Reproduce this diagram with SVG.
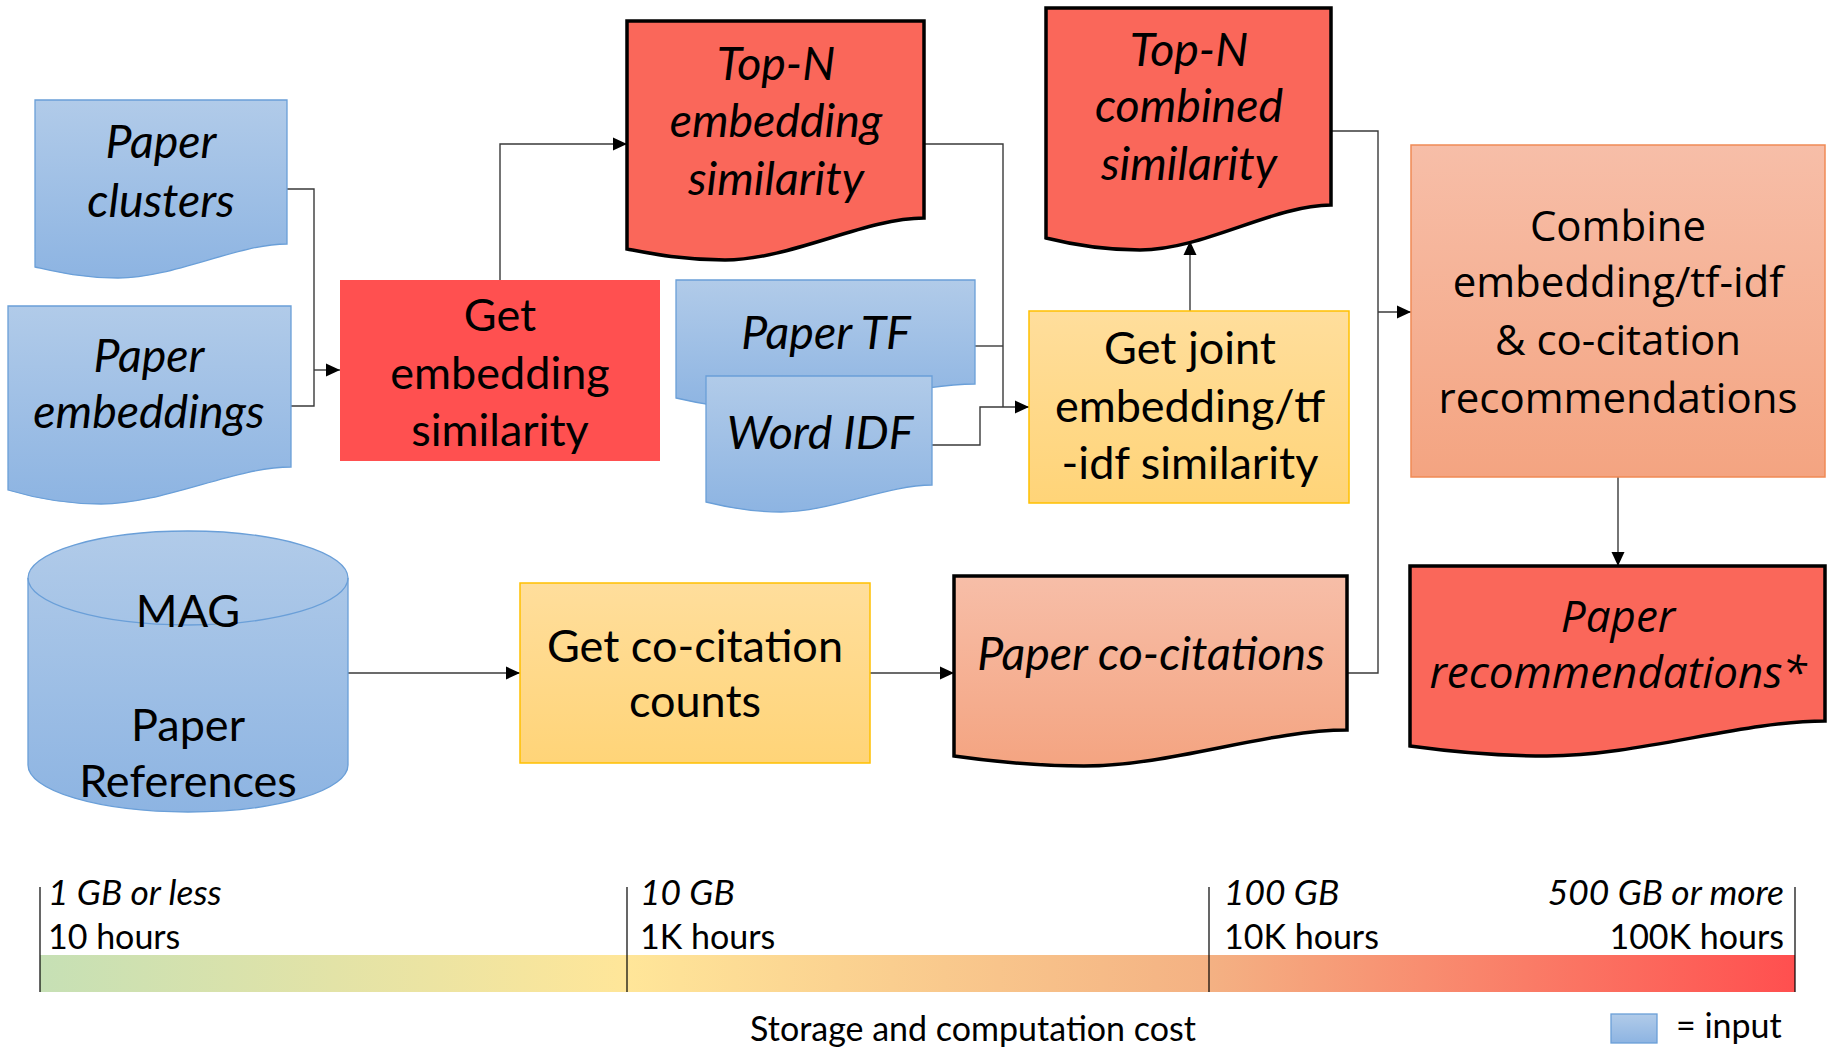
<svg xmlns="http://www.w3.org/2000/svg" width="1838" height="1050" viewBox="0 0 1838 1050">
<style>
text{font-family:Lato,"Liberation Sans",sans-serif;fill:#000;text-anchor:middle}
.n{font-size:45px}
.i{font-size:46.5px;font-style:italic}
.w{font-family:"Open Sans","DejaVu Sans",sans-serif;font-size:42px}
.wi{font-family:"Open Sans","DejaVu Sans",sans-serif;font-size:44px;font-style:italic}
.s{font-size:34px;text-anchor:start}
.si{font-size:35.4px;font-style:italic;text-anchor:start}
.inp{fill:url(#gBlue);stroke:#6A9FD8;stroke-width:1.3}
.thick{stroke:#000;stroke-width:3.5}
.conn{fill:none;stroke:#3a3a3a;stroke-width:1.4}
.tick{stroke:#000;stroke-width:1.2}
</style>
<defs>
<linearGradient id="gBlue" x1="0" y1="0" x2="0" y2="1"><stop offset="0" stop-color="#B1CBE9"/><stop offset="1" stop-color="#8DB4E2"/></linearGradient>
<linearGradient id="gGold" x1="0" y1="0" x2="0" y2="1"><stop offset="0" stop-color="#FFDE9C"/><stop offset="1" stop-color="#FFD478"/></linearGradient>
<linearGradient id="gSalmon" x1="0" y1="0" x2="0" y2="1"><stop offset="0" stop-color="#F7BEA8"/><stop offset="1" stop-color="#F4A481"/></linearGradient>
<linearGradient id="gScale" x1="0" y1="0" x2="1" y2="0"><stop offset="0" stop-color="#C6E0B5"/><stop offset="0.334" stop-color="#FFE699"/><stop offset="0.667" stop-color="#F4B183"/><stop offset="1" stop-color="#FF4F4F"/></linearGradient>
<marker id="arr" markerUnits="userSpaceOnUse" markerWidth="14" markerHeight="14" viewBox="0 0 14 14" refX="14" refY="7" orient="auto"><path d="M0 0.5 L14 7 L0 13.5 Z" fill="#000"/></marker>
</defs>

<g id="connectors">
<path class="conn" d="M287 189 H314 V406 H291"/>
<path class="conn" d="M314 370 H340" marker-end="url(#arr)"/>
<path class="conn" d="M500 280 V144 H627" marker-end="url(#arr)"/>
<path class="conn" d="M924 144 H1003 V407"/>
<path class="conn" d="M975 346 H1003"/>
<path class="conn" d="M932 445 H980 V407 H1029" marker-end="url(#arr)"/>
<path class="conn" d="M1190 311 V241" marker-end="url(#arr)"/>
<path class="conn" d="M1331 131 H1378 V673 H1347"/>
<path class="conn" d="M1378 312 H1411" marker-end="url(#arr)"/>
<path class="conn" d="M348 673 H520" marker-end="url(#arr)"/>
<path class="conn" d="M870 673 H954" marker-end="url(#arr)"/>
<path class="conn" d="M1618 477 V566" marker-end="url(#arr)"/>
</g>

<g id="paper-clusters">
<path class="inp" d="M35 100 H287 V244 C237 244 174 278 118 278 C80 278 53 271 35 267 Z"/>
<text class="i" x="161" y="158">Paper</text>
<text class="i" x="161" y="217">clusters</text>
</g>
<g id="paper-embeddings">
<path class="inp" d="M8 306 H291 V467 C234 467 164 504 101 504 C59 504 28 496 8 490 Z"/>
<text class="i" x="149" y="372">Paper</text>
<text class="i" x="149" y="428">embeddings</text>
</g>
<g id="get-embedding-similarity">
<rect x="340" y="280" width="320" height="181" fill="#FF5050"/>
<text class="n" x="500" y="331">Get</text>
<text class="n" x="500" y="389">embedding</text>
<text class="n" x="500" y="446">similarity</text>
</g>
<g id="topn-embedding-similarity">
<path class="thick" fill="#FA675A" d="M627 21 H924 V218 C865 218 790 260 725 260 C680 260 648 253 627 249 Z"/>
<text class="i" x="776" y="80">Top-N</text>
<text class="i" x="776" y="137">embedding</text>
<text class="i" x="776" y="195">similarity</text>
</g>
<g id="paper-tf">
<path class="inp" d="M676 280 H975 V384 C915 384 840 410 775 410 C730 410 697 403 676 398 Z"/>
<text class="i" x="826" y="349">Paper TF</text>
</g>
<g id="word-idf">
<path class="inp" d="M706 376 H932 V485 C887 485 830 512 781 512 C747 512 722 506 706 502 Z"/>
<text class="i" x="820" y="449">Word IDF</text>
</g>
<g id="topn-combined-similarity">
<path class="thick" fill="#FA675A" d="M1046 8 H1331 V205 C1274 205 1203 250 1140 250 C1097 250 1066 243 1046 238 Z"/>
<text class="i" x="1189" y="66">Top-N</text>
<text class="i" x="1189" y="122">combined</text>
<text class="i" x="1189" y="180">similarity</text>
</g>
<g id="get-joint-similarity">
<rect x="1029" y="311" width="320" height="192" fill="url(#gGold)" stroke="#FFC000" stroke-width="1.5"/>
<text class="n" x="1190" y="364">Get joint</text>
<text class="n" x="1190" y="422">embedding/tf</text>
<text class="n" x="1190" y="479">-idf similarity</text>
</g>
<g id="combine-recommendations">
<rect x="1411" y="145" width="414" height="332" fill="url(#gSalmon)" stroke="#F08A55" stroke-width="1.5"/>
<text class="w" x="1618" y="241">Combine</text>
<text class="w" x="1618" y="297">embedding/tf-idf</text>
<text class="w" x="1618" y="355">&amp; co-citation</text>
<text class="w" x="1618" y="413">recommendations</text>
</g>
<g id="paper-recommendations">
<path class="thick" fill="#FA675A" d="M1410 566 H1825 V721 C1742 721 1638 756 1547 756 C1485 756 1439 750 1410 746 Z"/>
<text class="wi" x="1618" y="632">Paper</text>
<text class="wi" x="1618" y="688">recommendations*</text>
</g>
<g id="mag-paper-references">
<path class="inp" d="M28 578 V765 A160 47 0 0 0 348 765 V578 A160 47 0 0 0 28 578 Z"/>
<path d="M28 578 A160 47 0 0 0 348 578" fill="none" stroke="#6A9FD8" stroke-width="1.3"/>
<text class="n" x="188" y="627">MAG</text>
<text class="n" x="188" y="741">Paper</text>
<text class="n" x="188" y="797">References</text>
</g>
<g id="get-cocitation-counts">
<rect x="520" y="583" width="350" height="180" fill="url(#gGold)" stroke="#FFC000" stroke-width="1.5"/>
<text class="n" x="695" y="662">Get co-citation</text>
<text class="n" x="695" y="717">counts</text>
</g>
<g id="paper-cocitations">
<path class="thick" fill="url(#gSalmon)" d="M954 576 H1347 V730 C1268 730 1170 766 1084 766 C1025 766 982 760 954 756 Z"/>
<text class="i" x="1151" y="670">Paper co-citations</text>
</g>

<g id="cost-scale">
<rect x="40" y="955" width="1755" height="37" fill="url(#gScale)"/>
<line class="tick" x1="40" y1="887" x2="40" y2="992"/>
<line class="tick" x1="627" y1="887" x2="627" y2="992"/>
<line class="tick" x1="1209" y1="887" x2="1209" y2="992"/>
<line class="tick" x1="1795" y1="887" x2="1795" y2="992"/>
<text class="si" x="48" y="905">1 GB or less</text>
<text class="s" x="48" y="949">10 hours</text>
<text class="si" x="640" y="905">10 GB</text>
<text class="s" x="640" y="949">1K hours</text>
<text class="si" x="1224" y="905">100 GB</text>
<text class="s" x="1224" y="949">10K hours</text>
<text class="si" x="1784" y="905" style="text-anchor:end">500 GB or more</text>
<text class="s" x="1784" y="949" style="text-anchor:end">100K hours</text>
<text class="s" x="973" y="1041" style="text-anchor:middle">Storage and computation cost</text>
</g>
<g id="legend">
<rect class="inp" x="1611" y="1014" width="46" height="29"/>
<text class="s" x="1676" y="1038">= input</text>
</g>
</svg>
